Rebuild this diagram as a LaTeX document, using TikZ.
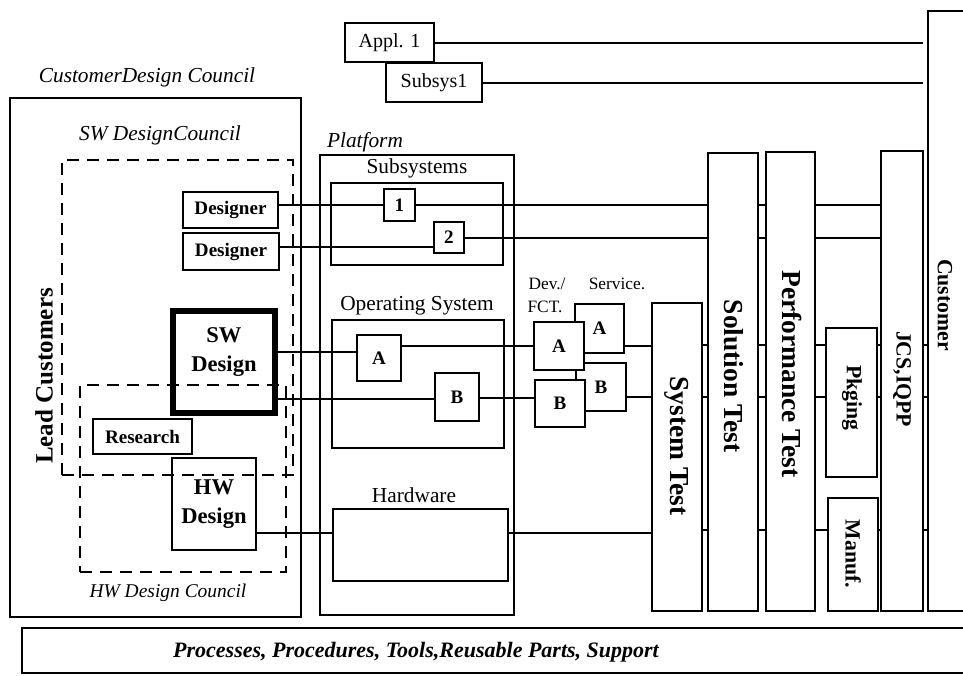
\documentclass[tikz,border=0pt]{standalone}
\usepackage{fontspec}
\setmainfont{Liberation Serif}
\begin{document}
\begin{tikzpicture}[x=0.75pt, y=-0.75pt,
  every node/.style={inner sep=0pt, outer sep=0pt},
  ln/.style={line width=1.5pt},
  bx/.style={draw, line width=1.5pt, align=center, inner sep=0pt},
  wbx/.style={bx, fill=white},
  dbx/.style={draw, line width=1.5pt, dash pattern=on 9pt off 6pt},
  small/.style={font=\fontsize{13}{15}\selectfont},
  reg/.style={font=\fontsize{16}{19}\selectfont},
  ital/.style={font=\fontsize{16}{19}\selectfont\itshape},
  bsm/.style={font=\fontsize{14.3}{17}\selectfont\bfseries},
  bmd/.style={font=\fontsize{16.9}{21.75}\selectfont\bfseries},
  bbar/.style={font=\fontsize{20.6}{24}\selectfont\bfseries, rotate=-90},
  bbar2/.style={font=\fontsize{16.3}{19}\selectfont\bfseries, rotate=-90},
  ]
\useasboundingbox (0,0) rectangle (963,675);
\clip (0,0) rectangle (963,675);

% helper coordinates
\coordinate (lend) at (923,0);
\coordinate (yd2) at (0,247);
\coordinate (ysw1) at (0,352);
\coordinate (ysw2) at (0,399);
\coordinate (yA) at (0,346);
\coordinate (yB) at (0,397);
\coordinate (yB2) at (0,398);
\coordinate (yH) at (0,533);
\coordinate (yL1) at (0,345);
\coordinate (yL2) at (0,397);
\coordinate (yL3) at (0,530);

% top boxes
\node[bx, font=\fontsize{15}{18}\selectfont, minimum width=66.75pt, minimum height=29.25pt] (appl) at (389.5,42.5) {Appl. 1};
\node[bx, font=\fontsize{15}{18}\selectfont, minimum width=72pt, minimum height=29.25pt] (subsys) at (434,82.5) {Subsys1};

% Customer design council
\node[ital] (cdct) at (147,77) {CustomerDesign Council};
\node[bx, minimum width=218.25pt, minimum height=389.25pt] (cdc) at (155.5,357.5) {};
\node[ital] (swct) at (160,135) {SW DesignCouncil};
\node[dbx, minimum width=173.25pt, minimum height=236.25pt] (swc) at (177.5,317.5) {};
\node[dbx, minimum width=154.5pt, minimum height=140.25pt] (hwc) at (183,478.5) {};
\node[font=\fontsize{14.6}{17}\selectfont\itshape] (hwct) at (168,593) {HW Design Council};
\node[font=\fontsize{18.75}{22}\selectfont\bfseries, rotate=90] (lead) at (44,376) {Lead Customers};

\node[bx, bsm, minimum width=71.25pt, minimum height=27pt] (des1) at (230.5,210) {Designer};
\node[bx, bsm, minimum width=72pt, minimum height=27.75pt] (des2) at (231,251.5) {Designer};
\node[draw, line width=4.5pt, minimum width=76.5pt, minimum height=76.5pt] (swd) at (224,362) {};
\node[bmd, align=center] (swdt) at (224,352.5) {SW\\Design};
\node[bx, bsm, minimum width=74.25pt, minimum height=26.25pt] (res) at (142.5,436.5) {Research};
\node[bx, bmd, minimum width=63pt, minimum height=69pt] (hwd) at (214,504) {HW\\Design};

% Platform
\node[ital] (platt) at (365,142) {Platform};
\node[bx, minimum width=145.5pt, minimum height=345pt] (plat) at (417,385) {};
\node[reg] (sst) at (417,168) {Subsystems};
\node[bx, minimum width=129pt, minimum height=61.5pt] (ssb) at (417,224) {};
\node[bx, bsm, minimum width=23.25pt, minimum height=24pt] (s1) at (399.5,205) {1};
\node[bx, bsm, minimum width=22.5pt, minimum height=23.25pt] (s2) at (449,237.5) {2};
\node[reg] (ost) at (417,306) {Operating System};
\node[bx, minimum width=129pt, minimum height=96pt] (osb) at (418,384) {};
\node[bx, bsm, minimum width=33pt, minimum height=34.5pt] (osA) at (379,358) {A};
\node[bx, bsm, minimum width=33pt, minimum height=36pt] (osB) at (457,397) {B};
\node[reg] (hwt) at (414,495) {Hardware};
\node[bx, minimum width=131.25pt, minimum height=54pt] (hwb) at (420.5,545) {};

% Dev / Service
\node[small] (devt) at (547,284) {Dev./};
\node[small] (fctt) at (545,307) {FCT.};
\node[small] (svct) at (617,284) {Service.};
\node[wbx, bsm, minimum width=36.75pt, minimum height=36.75pt] (svcA) at (599.5,328.5) {A};
\node[wbx, bsm, minimum width=37.5pt, minimum height=36pt] (svcB) at (601,387) {B};
\node[wbx, bsm, minimum width=37.5pt, minimum height=36pt] (devA) at (559,346) {A};
\node[wbx, bsm, minimum width=37.5pt, minimum height=35.25pt] (devB) at (560,403.5) {B};

% Vertical bars
\node[bx, minimum width=37.5pt, minimum height=231pt] (sys) at (677,457) {};
\node[bx, minimum width=37.5pt, minimum height=343.5pt] (sol) at (733,382) {};
\node[bx, minimum width=36.75pt, minimum height=344.25pt] (perf) at (790.5,381.5) {};
\node[bx, minimum width=38.25pt, minimum height=111.75pt] (pkg) at (851.5,402.5) {};
\node[bx, minimum width=37.5pt, minimum height=84.75pt] (man) at (853,554.5) {};
\node[bx, minimum width=31.5pt, minimum height=345pt] (jcs) at (902,381) {};
\node[bx, minimum width=54pt, minimum height=450pt] (cust) at (964,311) {};
\node[bbar] (syst) at (677,446) {System Test};
\node[bbar] (solt) at (734,376) {Solution Test};
\node[bbar] (perft) at (792,374) {Performance Test};
\node[bbar2] (jcst) at (902,379) {JCS,IQPP};
\node[bbar2] (pkgt) at (852,398) {Pkging};
\node[bbar2] (mant) at (853,554) {Manuf.};
\node[bbar2] (custt) at (945,305) {Customer};

% Processes box
\node[bx, minimum width=733.5pt, minimum height=33.75pt] (proc) at (511,650.5) {};
\node[font=\fontsize{16.5}{19}\selectfont\bfseries\itshape] (proct) at (416,652) {Processes, Procedures, Tools,Reusable Parts, Support};

% connectors
\draw[ln] (appl.east) -- (appl.east -| lend);
\draw[ln] (subsys.east) -- (subsys.east -| lend);

\draw[ln] (des1.east |- s1.west) -- (s1.west);
\draw[ln] (s1.east) -- (s1.east -| sol.west);
\draw[ln] (s1.east -| sol.east) -- (s1.east -| perf.west);
\draw[ln] (s1.east -| perf.east) -- (s1.east -| jcs.west);

\draw[ln] (des2.east |- yd2) -- (s2.west |- yd2);
\draw[ln] (s2.east) -- (s2.east -| sol.west);
\draw[ln] (s2.east -| sol.east) -- (s2.east -| perf.west);
\draw[ln] (s2.east -| perf.east) -- (s2.east -| jcs.west);

\draw[ln] (swd.east |- ysw1) -- (osA.west |- ysw1);
\draw[ln] (osA.east |- yA) -- (devA.west |- yA);
\draw[ln] (swd.east |- ysw2) -- (osB.west |- ysw2);
\draw[ln] (osB.east |- yB2) -- (devB.west |- yB2);
\draw[ln] (svcA.east |- yA) -- (sys.west |- yA);
\draw[ln] (svcB.east |- yB) -- (sys.west |- yB);
\draw[ln] (hwd.east |- yH) -- (hwb.west |- yH);
\draw[ln] (hwb.east |- yH) -- (sys.west |- yH);

\foreach \yy in {yL1,yL2} {
  \draw[ln] (sys.east |- \yy) -- (sol.west |- \yy);
  \draw[ln] (sol.east |- \yy) -- (perf.west |- \yy);
  \draw[ln] (perf.east |- \yy) -- (pkg.west |- \yy);
  \draw[ln] (pkg.east |- \yy) -- (jcs.west |- \yy);
  \draw[ln] (jcs.east |- \yy) -- (cust.west |- \yy);
}
\draw[ln] (sys.east |- yL3) -- (sol.west |- yL3);
\draw[ln] (sol.east |- yL3) -- (perf.west |- yL3);
\draw[ln] (perf.east |- yL3) -- (man.west |- yL3);
\draw[ln] (man.east |- yL3) -- (jcs.west |- yL3);
\draw[ln] (jcs.east |- yL3) -- (cust.west |- yL3);
\end{tikzpicture}
\end{document}
